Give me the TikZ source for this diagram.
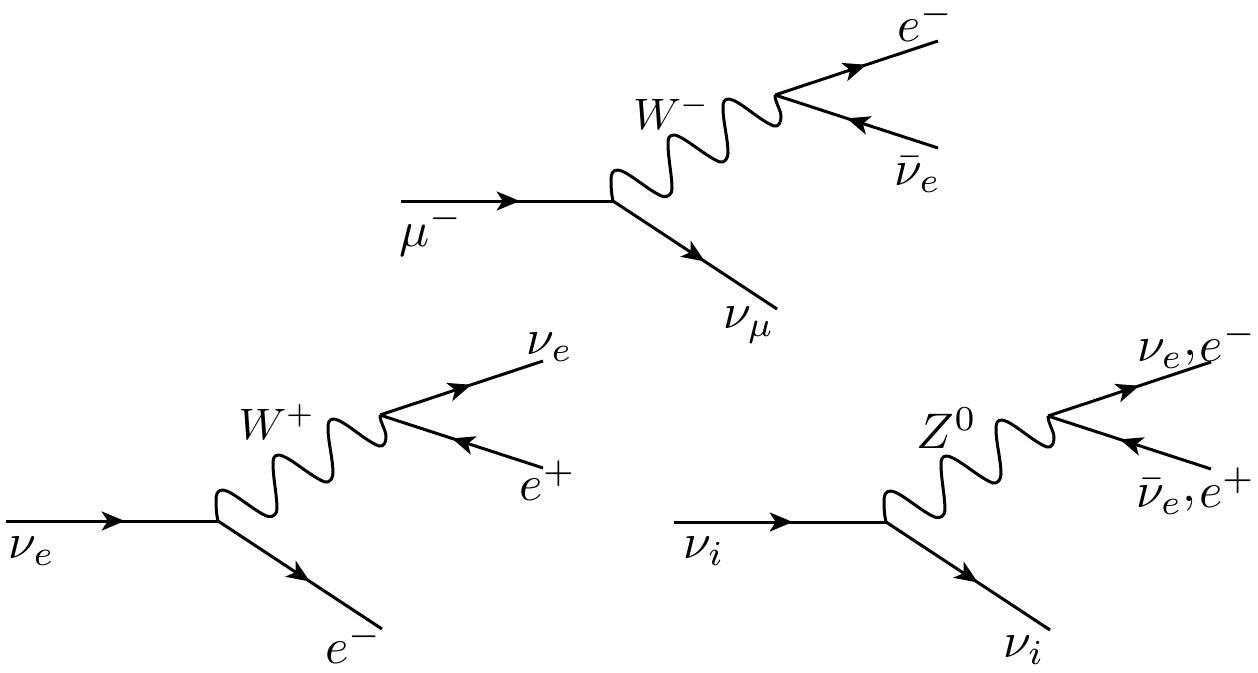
\documentclass[tikz,border=0pt]{standalone}
\usetikzlibrary{arrows.meta,decorations.markings}
\tikzset{
  fermion/.style={line width=3pt,postaction={decorate},decoration={markings,
    mark=at position 0.56 with {\arrow{Stealth[length=23pt,width=19pt,inset=6pt]}}}},
  boson/.style={line width=3pt,line join=round},
  lab/.style={scale=5,transform shape,inner sep=0pt,text=black},
  labw/.style={scale=4.4,transform shape,inner sep=0pt,text=black}
}
\newcommand{\feyn}[3]{%
  \begin{scope}[shift={(#2,#3)}]
    \coordinate (#1in) at (401,201);
    \coordinate (#1a) at (613,201);
    \coordinate (#1out) at (777,309);
    \coordinate (#1b) at (775,95);
    \coordinate (#1up) at (938,41);
    \coordinate (#1dn) at (938,148);
    \draw[fermion] (#1in) -- (#1a);
    \draw[fermion] (#1a) -- (#1out);
    \draw[fermion] (#1b) -- (#1up);
    \draw[fermion] (#1dn) -- (#1b);
    \draw[boson] (#1a)
      .. controls +(-1.5,-6) and +(0,7) .. ++(-2,-20)
      .. controls +(0,-7) and +(-6,0) .. ++(7,-11)
      .. controls +(10,1) and +(-14,-5) .. ++(45,26.5)
      .. controls +(5,1) and +(0,5) .. ++(9,-7.5)
      .. controls +(0,-14) and +(0,14) .. ++(-4,-45)
      .. controls +(0,-6) and +(-5,0) .. ++(6,-9)
      .. controls +(10,1) and +(-14,-5) .. ++(46,27)
      .. controls +(5,1) and +(0,5) .. ++(8,-9)
      .. controls +(0,-14) and +(0,14) .. ++(-5,-45)
      .. controls +(0,-6) and +(-5,0) .. ++(6,-9)
      .. controls +(10,1) and +(-14,-5) .. ++(45,27)
      .. controls +(5,1) and +(0,5) .. ++(7,-9)
      .. controls +(0,-8) and +(0,8) .. (#1b);
  \end{scope}}
\begin{document}
\begin{tikzpicture}[x=1pt,y=-1pt]
\useasboundingbox (0,0) rectangle (1258,672);
\feyn{t}{0}{0}
\feyn{l}{-395}{320}
\feyn{r}{273}{321}
\node[lab] (tmu) at (431,231) {$\mu^-$};
\node[lab] (tem) at (926,22) {$e^-$};
\node[labw] (tw) at (672,112) {$W^-$};
\node[lab] (tnb) at (918,175) {$\bar\nu_e$};
\node[lab] (tnm) at (749,325) {$\nu_\mu$};
\node[lab] (lne) at (32,551) {$\nu_e$};
\node[labw] (lw) at (277,422) {$W^+$};
\node[lab] (lnu) at (550,347) {$\nu_e$};
\node[lab] (lep) at (548,481) {$e^+$};
\node[lab] (lem) at (354,644) {$e^-$};
\node[lab] (rni) at (704,551) {$\nu_i$};
\node[lab] (rz) at (947,428) {$Z^0$};
\node[lab] (rup) at (1197,345) {$\nu_e\raisebox{1.2pt}{$,$}\mkern1mu e^-$};
\node[lab] (rdn) at (1196,491) {$\bar\nu_e\raisebox{1.2pt}{$,$}\mkern1mu e^+$};
\node[lab] (rno) at (1024,650) {$\nu_i$};
\end{tikzpicture}
\end{document}
